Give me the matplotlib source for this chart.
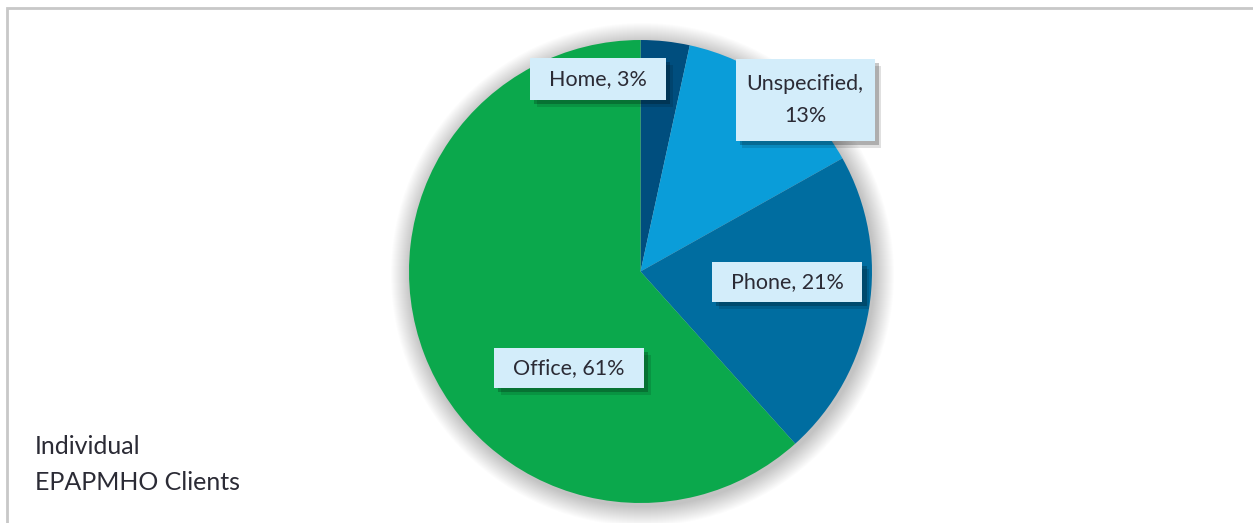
import matplotlib.pyplot as plt
from matplotlib.patches import Circle, Rectangle
import matplotlib.patheffects as pe

plt.rcParams['font.family'] = ['Lato', 'DejaVu Sans']

# data
categories = ['Home', 'Unspecified', 'Phone', 'Office']
shares = [3.4, 13.4, 21.4, 61.4]
colors = ['#004E7E', '#0A9DD9', '#006DA0', '#0BA84C']
title_lines = ['Individual', 'EPAPMHO Clients']

W, H = 1253, 523
fig = plt.figure(figsize=(W / 100, H / 100), dpi=100)
ax = fig.add_axes([0, 0, 1, 1])
ax.set_xlim(0, W)
ax.set_ylim(0, H)

cx, cy, r = 640.5, H - 271.5, 231.5

# soft shadow behind the pie
for i in range(20):
    ax.add_patch(Circle((cx + 2, cy - 3), r + 20 - i, color='#000000',
                        alpha=0.01, lw=0, zorder=1))

wedges, _ = ax.pie(shares, colors=colors, startangle=90, counterclock=False,
                   center=(cx, cy), radius=r, frame=True,
                   wedgeprops=dict(linewidth=0))
for w in wedges:
    w.set_zorder(2)
ax.set_xlim(0, W)
ax.set_ylim(0, H)

# data labels: box centre (pixels) and box padding
label_pos = {'Home': (598, 79), 'Unspecified': (805, 100),
             'Phone': (787, 282), 'Office': (569, 368)}
label_pad = {'Home': (19, 11), 'Unspecified': (11, 15),
             'Phone': (19, 10), 'Office': (19, 10)}
shadow = [pe.SimplePatchShadow(offset=(5, -5), shadow_rgbFace='#000000', alpha=0.12),
          pe.SimplePatchShadow(offset=(3, -3), shadow_rgbFace='#000000', alpha=0.22),
          pe.Normal()]
texts = []
for cat, val in zip(categories, shares):
    x, y = label_pos[cat]
    sep = ',\n' if cat == 'Unspecified' else ', '
    t = ax.text(x, H - y, f'{cat}{sep}{round(val)}%', ha='center', va='center',
                fontsize=15.5, color='#2B2B35', linespacing=1.75, zorder=4)
    texts.append((cat, t))

fig.canvas.draw()
renderer = fig.canvas.get_renderer()
for cat, t in texts:
    bb = t.get_window_extent(renderer)
    px, py = label_pad[cat]
    box = Rectangle((bb.x0 - px, bb.y0 - py), bb.width + 2 * px, bb.height + 2 * py,
                    fc='#D3EDFA', ec='none', zorder=3)
    box.set_path_effects(shadow)
    ax.add_patch(box)

ax.text(35, H - 446, title_lines[0], fontsize=18, color='#2B2B35', va='center')
ax.text(35, H - 482, title_lines[1], fontsize=18, color='#2B2B35', va='center')

# frame
ax.add_patch(Rectangle((7, -10), W + 20, H - 8 + 10, fill=False,
                       ec='#C8C8C8', lw=2, zorder=5))

ax.set_aspect('auto')
ax.axis('off')

fig.savefig('out.png', dpi=100)
